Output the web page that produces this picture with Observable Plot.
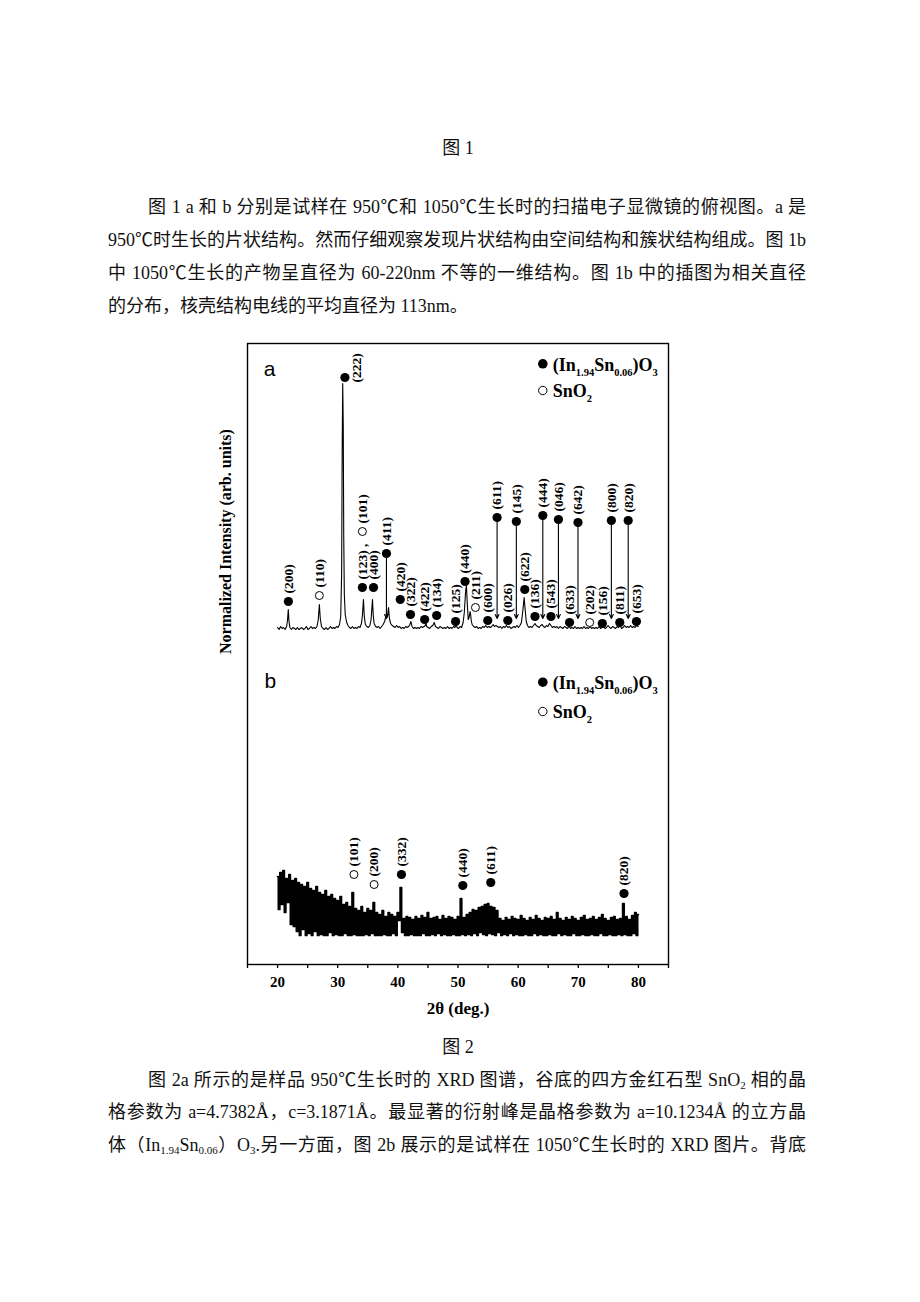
<!DOCTYPE html>
<html><head><meta charset="utf-8">
<script src="https://cdn.jsdelivr.net/npm/d3@7"></script>
<script src="https://cdn.jsdelivr.net/npm/@observablehq/plot@0.6"></script>
<style>
html,body{margin:0;padding:0;background:#fff;}
body{width:920px;height:1302px;position:relative;overflow:hidden;font-family:"Liberation Serif","Times New Roman","Noto Sans CJK SC",serif;color:#111;}
.ln{position:absolute;font-size:18px;line-height:22px;white-space:nowrap;}
.j{text-align:justify;text-align-last:justify;white-space:normal;}
.c{text-align:center;left:0;width:916px;}
#chart{position:absolute;left:0;top:330px;}
sub{font-size:11px;vertical-align:-3px;line-height:0;}
</style></head>
<body>
<div class="ln c" style="top:137px">图 1</div>
<div class="ln j" style="top:196px;left:148px;width:658px">图 1 a 和 b 分别是试样在 950℃和 1050℃生长时的扫描电子显微镜的俯视图。a 是</div>
<div class="ln j" style="top:229px;left:108px;width:698px">950℃时生长的片状结构。然而仔细观察发现片状结构由空间结构和簇状结构组成。图 1b</div>
<div class="ln j" style="top:262px;left:108px;width:698px">中 1050℃生长的产物呈直径为 60-220nm 不等的一维结构。图 1b 中的插图为相关直径</div>
<div class="ln" style="top:295px;left:108px">的分布，核壳结构电线的平均直径为 113nm。</div>
<div id="chart"></div>
<div class="ln c" style="top:1036px">图 2</div>
<div class="ln j" style="top:1069px;left:148px;width:658px">图 2a 所示的是样品 950℃生长时的 XRD 图谱，谷底的四方金红石型 SnO<sub>2</sub> 相的晶</div>
<div class="ln j" style="top:1101px;left:108px;width:698px">格参数为 a=4.7382Å，c=3.1871Å。最显著的衍射峰是晶格参数为 a=10.1234Å 的立方晶</div>
<div class="ln j" style="top:1134px;left:108px;width:698px">体（In<sub>1.94</sub>Sn<sub>0.06</sub>）O<sub>3</sub>.另一方面，图 2b 展示的是试样在 1050℃生长时的 XRD 图片。背底</div>
<script>
// ---- axis ----
const xTicks = [15,20,25,30,35,40,45,50,55,60,65,70,75,80,85];
const xLabel = "2θ (deg.)";
const yLabel = "Normalized Intensity (arb. units)";

// ---- pattern a (950 °C), [2θ, intensity] ----
const scanA = [
[20.0,337],[20.25,335],[20.5,338],[20.75,336],[21.0,337],[21.25,335],[21.5,338],[21.65,344],[21.78,355],[21.9,343],[22.05,337],[22.3,335],[22.55,337],[22.8,336],[23.05,335],[23.3,337],[23.55,335],[23.8,336],[24.05,337],[24.3,335],[24.55,336],[24.8,338],[25.05,335],[25.3,336],[25.55,338],[25.8,336],[26.05,337],[26.3,336],[26.55,338],[26.75,344],[26.95,360],[27.1,346],[27.3,338],[27.55,336],[27.8,335],[28.05,337],[28.3,335],[28.55,336],[28.8,338],[29.05,336],[29.3,337],[29.55,336],[29.8,338],[30.05,337],[30.3,340],[30.5,348],[30.65,390],[30.75,520],[30.83,581],[30.92,540],[31.0,430],[31.1,370],[31.25,350],[31.45,343],[31.7,339],[31.95,337],[32.2,336],[32.45,338],[32.7,336],[32.95,337],[33.2,336],[33.45,338],[33.7,337],[33.95,341],[34.12,350],[34.28,365],[34.42,348],[34.6,340],[34.85,338],[35.1,337],[35.35,339],[35.55,345],[35.7,358],[35.78,365],[35.9,350],[36.05,341],[36.3,338],[36.55,337],[36.8,338],[37.05,336],[37.3,338],[37.55,340],[37.8,343],[38.0,348],[38.1,351],[38.2,347],[38.3,350],[38.45,357],[38.6,346],[38.8,341],[39.05,339],[39.3,338],[39.55,337],[39.8,339],[40.05,337],[40.3,338],[40.55,336],[40.8,337],[41.05,336],[41.3,338],[41.55,337],[41.8,338],[42.0,340],[42.17,343],[42.35,338],[42.6,336],[42.85,337],[43.1,336],[43.35,337],[43.6,336],[43.85,338],[44.1,337],[44.35,338],[44.55,339],[44.67,341],[44.8,338],[45.05,337],[45.3,336],[45.55,338],[45.8,339],[46.05,342],[46.25,338],[46.5,337],[46.75,336],[47.0,338],[47.25,337],[47.5,336],[47.75,337],[48.0,336],[48.25,338],[48.5,336],[48.75,337],[49.0,336],[49.25,338],[49.5,337],[49.67,340],[49.85,337],[50.1,336],[50.35,338],[50.6,337],[50.85,342],[51.05,352],[51.25,372],[51.4,379],[51.55,360],[51.7,345],[51.85,347],[52.0,353],[52.1,350],[52.2,344],[52.35,340],[52.6,338],[52.85,337],[53.1,338],[53.35,336],[53.6,337],[53.85,336],[54.1,338],[54.35,337],[54.6,339],[54.85,337],[55.1,338],[55.35,337],[55.6,338],[55.85,340],[56.05,338],[56.3,339],[56.55,338],[56.8,337],[57.05,338],[57.3,336],[57.55,338],[57.8,337],[58.05,339],[58.3,337],[58.55,338],[58.8,336],[59.05,337],[59.3,338],[59.55,337],[59.8,339],[60.05,337],[60.3,339],[60.55,342],[60.8,355],[61.0,367],[61.15,356],[61.35,343],[61.55,339],[61.8,337],[62.05,338],[62.3,337],[62.55,339],[62.8,341],[63.0,339],[63.25,338],[63.5,337],[63.75,339],[64.0,340],[64.2,338],[64.45,337],[64.7,339],[64.95,338],[65.2,341],[65.45,339],[65.7,337],[65.95,338],[66.2,337],[66.45,338],[66.7,336],[66.95,338],[67.2,337],[67.45,336],[67.7,338],[67.95,337],[68.2,336],[68.45,338],[68.7,336],[68.95,337],[69.2,336],[69.45,338],[69.7,336],[69.95,337],[70.2,336],[70.45,337],[70.7,336],[70.95,338],[71.2,336],[71.45,337],[71.7,336],[71.95,338],[72.2,336],[72.45,337],[72.7,336],[72.95,337],[73.2,336],[73.45,338],[73.7,336],[73.95,337],[74.2,338],[74.45,336],[74.7,337],[74.95,339],[75.2,337],[75.45,336],[75.7,338],[75.95,337],[76.2,336],[76.45,338],[76.7,337],[76.95,339],[77.2,336],[77.45,337],[77.7,339],[77.95,337],[78.2,338],[78.45,337],[78.7,339],[78.95,337],[79.2,338],[79.45,337],[79.7,339],[79.95,338]
];

// ---- pattern b (1050 °C): scan start, step, intensities ----
const scanBStart = 20, scanBStep = 0.25;
const scanBValues = [
88,55,92,60, 94,52,86,62, 90,40,84,38, 86,33,82,29, 80,35,78,29,
82,31,76,29, 74,33,78,29, 72,30,70,29, 74,29,68,32, 70,29,66,30,
64,29,68,29, 60,31,62,29, 58,29,72,30, 56,29,54,29, 58,29,52,30,
56,29,54,31, 62,29,52,29, 50,29,54,30, 48,29,52,29, 50,31,48,29,
52,44,77,32, 46,29,48,29, 47,30,45,29, 48,29,46,29, 49,31,47,29,
52,29,46,30, 47,29,48,31, 45,29,49,30, 46,29,48,29, 47,30,45,29,
48,29,66,30, 47,29,50,30, 52,29,55,31, 54,29,57,32, 58,30,60,29,
61,31,58,30, 57,29,54,32, 46,29,44,30, 47,29,45,31, 48,29,46,30,
45,29,49,29, 46,30,44,29, 47,29,45,31, 49,29,46,30, 44,29,47,29,
46,30,48,29, 45,29,52,31, 46,29,44,30, 47,29,45,29, 48,31,46,29,
44,29,47,30, 49,29,45,29, 46,30,48,29, 45,29,47,31, 50,29,46,29,
44,30,47,29, 48,29,45,30, 46,29,61,30, 48,29,45,29, 49,31,52,29,
50
];

// ---- peak markers, pattern a ----
const peakA_x     = [21.8,26.95,31.2,34.1,34.1,35.95,38.1,40.4,42.1,44.45,46.45,49.6,51.17,52.9,54.95,56.5,58.28,59.7,61.1,62.8,64.1,65.45,66.7,68.55,69.95,71.9,74.0,75.5,76.9,78.3,79.67];
const peakA_y     = [363,369,587,377,433,377,411,365,350,345,349,343,383,357,344,447,344,443,375,348,449,348,445,342,442,342,341,444,342,444,343];
const peakA_hkl   = ["(200)","(110)","(222)","(123) ,","(101)","(400)","(411)","(420)","(322)","(422)","(134)","(125)","(440)","(211)","(600)","(611)","(026)","(145)","(622)","(136)","(444)","(543)","(046)","(633)","(642)","(202)","(156)","(800)","(811)","(820)","(653)"];
const peakA_phase = ["ITO","SnO2","ITO","ITO","SnO2","ITO","ITO","ITO","ITO","ITO","ITO","ITO","ITO","SnO2","ITO","ITO","ITO","ITO","ITO","ITO","ITO","ITO","ITO","ITO","ITO","SnO2","ITO","ITO","ITO","ITO","ITO"];
const peakA_arrow = [0,0,0,0,0,0,1,0,0,0,0,0,0,0,0,1,0,1,0,0,1,0,1,0,1,0,0,1,0,1,0];
const arrowTipA = 346;

// ---- peak markers, pattern b ----
const peakB_x     = [32.7,36.05,40.6,50.8,55.45,77.6];
const peakB_y     = [90,80,90,79,82,71];
const peakB_hkl   = ["(101)","(200)","(332)","(440)","(611)","(820)"];
const peakB_phase = ["SnO2","SnO2","ITO","ITO","ITO","ITO"];

// ---- legends & panel letters ----
const legendNames = ["(In1.94Sn0.06)O3","SnO2"];
const legendPhase = ["ITO","SnO2"];
const legendA_y = [600.7,574];
const legendB_y = [282.3,253];
const legend_x = 64.1;
const panelLetters = ["a","b"];
const panelLetter_x = [18.67,18.8];
const panelLetter_y = [595,283];

// ---- build tables ----
const scanB = scanBValues.map((v,i)=>[scanBStart + i*scanBStep, v]);
const peaksA = peakA_x.map((x,i)=>({x, y:peakA_y[i], hkl:peakA_hkl[i], phase:peakA_phase[i], arrow:peakA_arrow[i]}));
const peaksB = peakB_x.map((x,i)=>({x, y:peakB_y[i], hkl:peakB_hkl[i], phase:peakB_phase[i]}));
const allPeaks = peaksA.concat(peaksB);
const legend = legendNames.flatMap((n,i)=>[
  {name:n, phase:legendPhase[i], x:legend_x, y:legendA_y[i]},
  {name:n, phase:legendPhase[i], x:legend_x, y:legendB_y[i]}]);
const letters = panelLetters.map((t,i)=>({t, x:panelLetter_x[i], y:panelLetter_y[i]}));

const lblNormal = allPeaks.filter(d=>d.hkl!=="(222)");
const lblTop = allPeaks.filter(d=>d.hkl==="(222)");

const chart = Plot.plot({
  width: 920, height: 700,
  marginTop: 13, marginBottom: 66, marginLeft: 247, marginRight: 252,
  style: {fontFamily: '"Liberation Serif","Times New Roman",serif', background: "transparent", color: "#000", overflow: "visible"},
  x: {domain: [15, 85]},
  y: {domain: [0, 621], axis: null},
  marks: [
    Plot.frame({stroke: "#000", strokeWidth: 1.4}),
    Plot.axisX({ticks: xTicks, tickFormat: d => (d % 10 === 0 && d >= 20 && d <= 80) ? String(d) : "",
      tickSize: 4, tickPadding: 8, fontSize: 15, fontWeight: "bold", label: null, strokeWidth: 1.3}),
    Plot.line(scanA, {x: d=>d[0], y: d=>d[1], stroke: "#000", strokeWidth: 1.1}),
    Plot.line(scanB, {x: d=>d[0], y: d=>d[1], stroke: "#000", strokeWidth: 1.7, curve: "step"}),
    Plot.arrow(peaksA.filter(d=>d.arrow), {x1: "x", x2: "x", y1: "y", y2: () => arrowTipA,
      stroke: "#000", strokeWidth: 1.1, headLength: 6, headAngle: 50, insetStart: 4}),
    Plot.dot(allPeaks.filter(d=>d.phase==="ITO"), {x: "x", y: "y", r: 4.6, fill: "#000"}),
    Plot.dot(allPeaks.filter(d=>d.phase==="SnO2"), {x: "x", y: "y", r: 4, fill: "#fff", stroke: "#000", strokeWidth: 1}),
    Plot.text(lblNormal, {x: "x", y: "y", text: "hkl", rotate: -90, textAnchor: "start", lineAnchor: "middle",
      dy: -8, fontSize: 13.5, fontWeight: "bold", fill: "#000"}),
    Plot.text(lblTop, {x: "x", y: "y", text: "hkl", rotate: -90, textAnchor: "start", lineAnchor: "middle",
      dx: 12, dy: 5, fontSize: 13.5, fontWeight: "bold", fill: "#000"}),
    Plot.dot(legend.filter(d=>d.phase==="ITO"), {x: "x", y: "y", r: 4.8, fill: "#000"}),
    Plot.dot(legend.filter(d=>d.phase==="SnO2"), {x: "x", y: "y", r: 4.2, fill: "#fff", stroke: "#000", strokeWidth: 1}),
    Plot.text(legend, {x: "x", y: "y", text: "name", textAnchor: "start", lineAnchor: "middle",
      dx: 10, dy: 1, fontSize: 18, fontWeight: "bold", fill: "#000"}),
    Plot.text(letters, {x: "x", y: "y", text: "t", fontSize: 21, lineAnchor: "middle",
      fontFamily: '"Liberation Sans",Arial,sans-serif', fill: "#000"}),
    Plot.text([yLabel], {text: d=>d, frameAnchor: "left", rotate: -90, dx: -22, fontSize: 16, fontWeight: "bold", lineAnchor: "middle", fill: "#000"}),
    Plot.text([xLabel], {text: d=>d, frameAnchor: "bottom", dy: 44, fontSize: 17, fontWeight: "bold", lineAnchor: "middle", fill: "#000"})
  ]
});

// subscripts in legend text
const subs = {"(In1.94Sn0.06)O3": [["(In",0],["1.94",1],["Sn",0],["0.06",1],[")O",0],["3",1]], "SnO2": [["SnO",0],["2",1]]};
d3.select(chart).selectAll("text").each(function(){
  const parts = subs[this.textContent];
  if (!parts) return;
  const el = d3.select(this);
  el.text(null);
  let prev = 0;
  for (const [s, sub] of parts) {
    const t = el.append("tspan").text(s);
    if (sub && !prev) t.attr("dy", 5).attr("font-size", 10.5);
    else if (sub) t.attr("font-size", 10.5);
    else if (!sub && prev) t.attr("dy", -5);
    prev = sub;
  }
});
document.getElementById("chart").appendChild(chart);
</script>
</body></html>
